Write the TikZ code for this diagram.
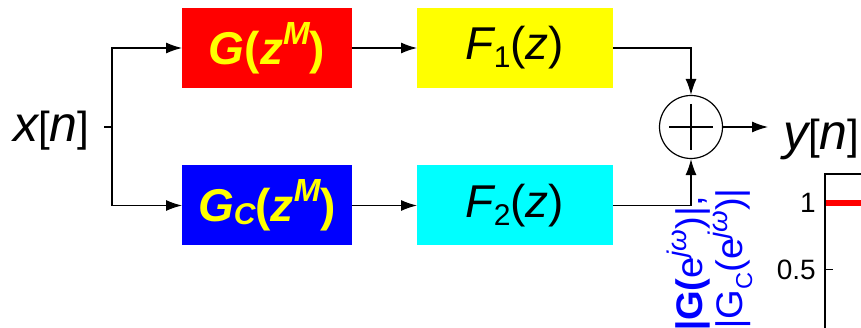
\documentclass[tikz,border=0pt]{standalone}
\usepackage{fontspec}
\setmainfont{Liberation Sans}
\usetikzlibrary{arrows.meta}
\newcommand{\fs}[1]{\fontsize{#1}{#1}\selectfont}
\definecolor{rred}{RGB}{255,0,0}
\definecolor{ryel}{RGB}{255,255,0}
\definecolor{rblue}{RGB}{0,0,255}
\definecolor{rcyan}{RGB}{0,255,255}
\begin{document}
\begin{tikzpicture}[x=1pt,y=-1pt,
  blk/.style={minimum height=80pt, inner sep=0pt, outer sep=0pt},
  gblk/.style={blk, minimum width=170pt, text=ryel},
  fblk/.style={blk, minimum width=196pt, text=black},
  conn/.style={line width=1.2pt},
  arr/.style={conn,-{Latex[length=16pt,width=11pt]}},
  sig/.style={inner sep=0pt, outer sep=0pt, anchor=base west},
  ylab/.style={text=rblue, rotate=90, anchor=base east, inner sep=0pt, font=\fs{37}},
  tlab/.style={anchor=east, inner sep=0pt, font=\fs{28}},
]
\useasboundingbox (0,0) rectangle (861,328);
\clip (0,0) rectangle (861,328);

% signals
\node[sig] (x) at (13,142) {{\fs{50}\itshape x}{\fs{42}[}{\fs{50}\itshape n}{\fs{42}]}};
\node[sig] (y) at (783,150) {{\fs{50}\itshape y}{\fs{42}[}{\fs{50}\itshape n}{\fs{42}]}};

% blocks
\node[gblk, fill=rred] (g) at (267,48)
  {\bfseries{\fs{46}\itshape G}{\fs{46}(}{\fs{46}\itshape z}\raisebox{20pt}{\fs{32}\itshape M}{\fs{46})}};
\node[gblk, fill=rblue] (gc) at (267,205.5)
  {\bfseries{\fs{46}\itshape G}\raisebox{-3pt}{\fs{30}\itshape C}{\fs{46}(}{\fs{46}\itshape z}\raisebox{20pt}{\fs{32}\itshape M}{\fs{46})}};
\node[fblk, fill=ryel] (f1) at (515,48)
  {{\fs{46}\itshape F}\raisebox{-8pt}{\fs{30}1}{\fs{46}(\textit{z})}};
\node[fblk, fill=rcyan] (f2) at (515,205.5)
  {{\fs{46}\itshape F}\raisebox{-8pt}{\fs{30}2}{\fs{46}(\textit{z})}};

% summer
\node[draw, circle, minimum size=63pt, inner sep=0pt, line width=1.2pt] (sum) at (691,127) {};
\draw[conn] ([xshift=-22pt]sum.center) -- ([xshift=22pt]sum.center);
\draw[conn] ([yshift=23pt]sum.center) -- ([yshift=-23pt]sum.center);

% connectors
\coordinate (xo) at (104,127);
\coordinate (j) at (112,127);
\coordinate (yo) at (768,127);
\draw[conn] (xo) -- (j);
\draw[arr] (j) |- (g.west);
\draw[arr] (j) |- (gc.west);
\draw[arr] (g) -- (f1);
\draw[arr] (gc) -- (f2);
\draw[arr] (f1.east) -| (sum.north);
\draw[arr] (f2.east) -| (sum.south);
\draw[arr] (sum.east) -- (yo);

% plot fragment
\draw[line width=1.4pt] (825,345) -- (825,174) -- (870,174);
\draw[rred, line width=6pt] (826,203) -- (870,203);
\draw[line width=1pt] (825,270) -- (833,270);
\node[tlab] (t1) at (816,203) {1};
\node[tlab] (t05) at (816,270) {0.5};
\node[tlab] (t0) at (816,340) {0};

% rotated axis label
\node[ylab] (l1) at (702,196)
  {\scalebox{1.03}[1]{\textbf{\textit{|}G(}e\raisebox{16pt}{\fs{27}\itshape jω})|,}};
\node[ylab] (l2) at (742,188)
  {\scalebox{1.03}[1]{\textit{|}G\raisebox{-10pt}{\fs{23}C}(e\raisebox{15pt}{\fs{27}\itshape jω})|}};
\end{tikzpicture}
\end{document}
